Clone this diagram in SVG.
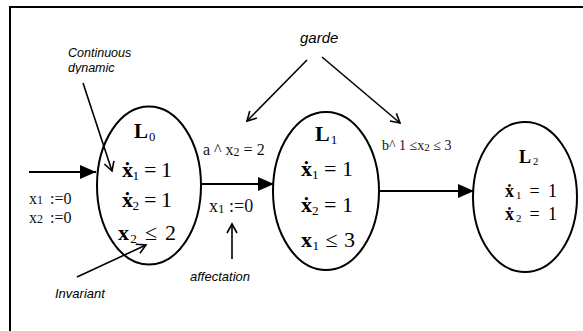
<svg xmlns="http://www.w3.org/2000/svg" width="583" height="331" viewBox="0 0 583 331">
<style>
.st{fill:none;stroke:#000;stroke-width:2}
.ann{fill:none;stroke:#000;stroke-width:1.6}
.m{font-family:"Liberation Serif","Times New Roman",serif;font-weight:bold;fill:#000}
.n{font-family:"Liberation Serif","Times New Roman",serif;fill:#111}
.it{font-family:"Liberation Sans",Arial,sans-serif;font-style:italic;fill:#000}
.sub{font-size:0.6em;font-weight:normal}
</style>
<defs>
<marker id="tri" markerWidth="16" markerHeight="14" refX="16" refY="7" orient="auto" markerUnits="userSpaceOnUse">
<path d="M0,0 L16,7 L0,14 Z" fill="#000"/>
</marker>
<marker id="vee" markerWidth="12" markerHeight="12" refX="10" refY="6" orient="auto" markerUnits="userSpaceOnUse">
<path d="M1,1 L10,6 L1,11" fill="none" stroke="#000" stroke-width="1.6"/>
</marker>
<clipPath id="clipdyn"><rect x="0" y="0" width="200" height="74"/></clipPath>
</defs>
<rect x="10" y="7" width="640" height="400" fill="#fff" stroke="#000" stroke-width="2"/>

<g id="connectors">
<line class="st" x1="29" y1="172" x2="96" y2="172" marker-end="url(#tri)"/>
<line class="st" x1="201" y1="184" x2="274" y2="184" marker-end="url(#tri)"/>
<line class="st" x1="379" y1="191" x2="474" y2="191" marker-end="url(#tri)"/>
<line class="ann" x1="83" y1="83" x2="112" y2="171" marker-end="url(#vee)"/>
<line class="ann" x1="77" y1="277" x2="146" y2="245" marker-end="url(#vee)"/>
<line class="ann" x1="232" y1="259" x2="232" y2="224" marker-end="url(#vee)"/>
<line class="ann" x1="307" y1="60" x2="247" y2="121" marker-end="url(#vee)"/>
<line class="ann" x1="322" y1="57" x2="400" y2="123" marker-end="url(#vee)"/>
</g>

<g id="L0">
<ellipse class="st" cx="149" cy="185.5" rx="52" ry="79"/>
<text class="m" x="134" y="138" font-size="21">L<tspan class="sub" dx="1" dy="3">0</tspan></text>
<text class="m" x="122" y="177" font-size="22" textLength="50">ẋ<tspan class="sub" dy="3">1</tspan><tspan dy="-3" font-weight="normal"> = 1</tspan></text>
<text class="m" x="122" y="207" font-size="22" textLength="50">ẋ<tspan class="sub" dy="3">2</tspan><tspan dy="-3" font-weight="normal"> = 1</tspan></text>
<text class="m" x="118" y="240" font-size="22" textLength="58">x<tspan class="sub" dy="3">2</tspan><tspan dy="-3" font-weight="normal"> ≤ 2</tspan></text>
</g>

<g id="L1">
<ellipse class="st" cx="326" cy="191" rx="53" ry="79"/>
<text class="m" x="315" y="141" font-size="22">L<tspan class="sub" dx="1" dy="3">1</tspan></text>
<text class="m" x="301" y="176" font-size="22" textLength="52">ẋ<tspan class="sub" dy="3">1</tspan><tspan dy="-3" font-weight="normal"> = 1</tspan></text>
<text class="m" x="301" y="212" font-size="22" textLength="52">ẋ<tspan class="sub" dy="3">2</tspan><tspan dy="-3" font-weight="normal"> = 1</tspan></text>
<text class="m" x="301" y="247" font-size="22" textLength="54">x<tspan class="sub" dy="3">1</tspan><tspan dy="-3" font-weight="normal"> ≤ 3</tspan></text>
</g>

<g id="L2">
<ellipse class="st" cx="525" cy="197" rx="52" ry="75"/>
<text class="m" x="519" y="163" font-size="18">L<tspan class="sub" dx="2" dy="2">2</tspan></text>
<text class="m" x="505" y="197" font-size="18" textLength="52">ẋ<tspan class="sub" dy="2">1</tspan><tspan dy="-2" font-weight="normal"> = 1</tspan></text>
<text class="m" x="505" y="220" font-size="18" textLength="52">ẋ<tspan class="sub" dy="2">2</tspan><tspan dy="-2" font-weight="normal"> = 1</tspan></text>
</g>

<g id="labels">
<text class="n" x="29" y="204" font-size="16">x<tspan font-size="12">1</tspan> <tspan dx="3">:=0</tspan></text>
<text class="n" x="29" y="223" font-size="16">x<tspan font-size="12">2</tspan> <tspan dx="3">:=0</tspan></text>
<text class="n" x="203" y="155" font-size="16">a ^ x<tspan font-size="12" dy="1">2</tspan><tspan dy="-1"> = 2</tspan></text>
<text class="n" x="209" y="212" font-size="18">x<tspan font-size="13" dy="1">1</tspan><tspan dy="-1"> :=0</tspan></text>
<text class="n" x="382" y="150" font-size="14" fill="#333">b^ 1 ≤x<tspan font-size="11" dy="1">2</tspan><tspan dy="-1">  ≤ 3</tspan></text>
<text class="it" x="300" y="43" font-size="15">garde</text>
<text class="it" x="68" y="57" font-size="12.5">Continuous</text>
<text class="it" x="68" y="72" font-size="12.5" clip-path="url(#clipdyn)">dynamic</text>
<text class="it" x="55" y="298" font-size="13">Invariant</text>
<text class="it" x="190" y="281" font-size="13">affectation</text>
</g>
</svg>
